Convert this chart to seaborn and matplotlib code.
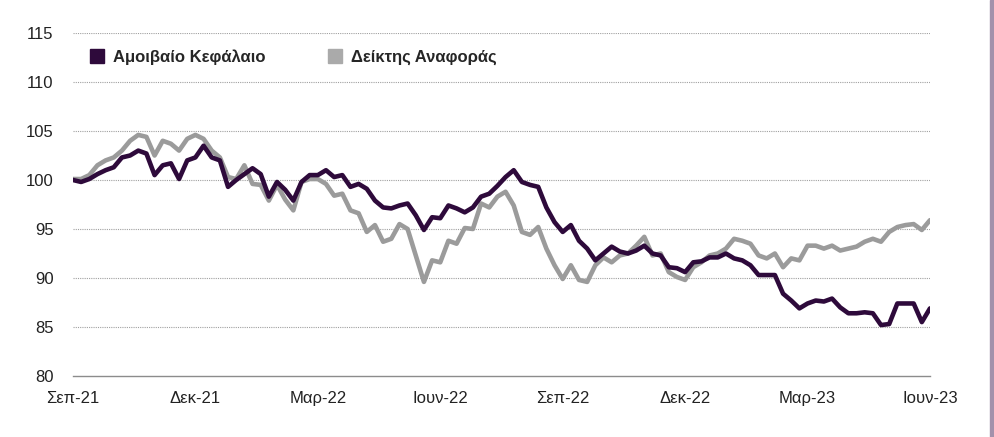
import numpy as np
import pandas as pd
import seaborn as sns
import matplotlib.pyplot as plt
from matplotlib.lines import Line2D
from matplotlib.patches import Rectangle

# x axis in months since Sep-21, one point every 0.2 month
months = np.round(np.arange(0, 21.01, 0.2), 1)

fund = [100.0, 99.8, 100.1, 100.6, 101.0, 101.3, 102.3, 102.5, 103.0, 102.7,
        100.5, 101.5, 101.7, 100.1, 102.0, 102.3, 103.5, 102.3, 102.0, 99.3,
        100.0, 100.6, 101.2, 100.6, 98.3, 99.8, 99.0, 97.9, 99.8, 100.5,
        100.5, 101.0, 100.3, 100.5, 99.3, 99.6, 99.1, 97.9, 97.2, 97.1,
        97.4, 97.6, 96.4, 94.9, 96.2, 96.1, 97.4, 97.1, 96.7, 97.2,
        98.3, 98.6, 99.4, 100.3, 101.0, 99.8, 99.5, 99.3, 97.2, 95.7,
        94.7, 95.4, 93.8, 93.0, 91.8, 92.5, 93.2, 92.7, 92.5, 92.8,
        93.3, 92.5, 92.3, 91.1, 91.0, 90.6, 91.6, 91.7, 92.1, 92.1,
        92.5, 92.0, 91.8, 91.3, 90.3, 90.3, 90.3, 88.4, 87.7, 86.9,
        87.4, 87.7, 87.6, 87.9, 87.0, 86.4, 86.4, 86.5, 86.4, 85.2,
        85.3, 87.4, 87.4, 87.4, 85.5, 86.9]

bench = [100.1, 100.1, 100.5, 101.5, 102.0, 102.3, 103.0, 104.0, 104.6, 104.4,
         102.5, 104.0, 103.7, 103.0, 104.2, 104.6, 104.2, 103.0, 102.3, 100.3,
         100.1, 101.5, 99.6, 99.5, 97.9, 99.5, 98.0, 96.9, 99.8, 100.1,
         100.1, 99.6, 98.4, 98.6, 96.9, 96.6, 94.7, 95.4, 93.7, 94.0,
         95.5, 95.0, 92.3, 89.6, 91.8, 91.6, 93.8, 93.5, 95.1, 95.0,
         97.6, 97.2, 98.3, 98.8, 97.4, 94.7, 94.4, 95.2, 93.0, 91.3,
         89.9, 91.3, 89.8, 89.6, 91.3, 92.1, 91.6, 92.3, 92.5, 93.3,
         94.2, 92.3, 92.5, 90.6, 90.1, 89.8, 91.1, 91.6, 92.3, 92.5,
         93.0, 94.0, 93.8, 93.5, 92.3, 92.0, 92.5, 91.1, 92.0, 91.8,
         93.3, 93.3, 93.0, 93.3, 92.8, 93.0, 93.2, 93.7, 94.0, 93.7,
         94.7, 95.2, 95.4, 95.5, 94.9, 95.9]

series_names = ['Αμοιβαίο Κεφάλαιο', 'Δείκτης Αναφοράς']
tick_pos = [0, 3, 6, 9, 12, 15, 18, 21]
tick_labels = ['Σεπ-21', 'Δεκ-21', 'Μαρ-22', 'Ιουν-22',
               'Σεπ-22', 'Δεκ-22', 'Μαρ-23', 'Ιουν-23']
y_ticks = [80, 85, 90, 95, 100, 105, 110, 115]

dark = '#2e0a3b'
grey_line = '#9b9b9b'
grey_box = '#aaaaaa'

df = pd.DataFrame({
    'month': np.concatenate([months, months]),
    'value': bench + fund,
    'series': [series_names[1]] * len(bench) + [series_names[0]] * len(fund),
})

sns.set_style('white')
plt.rcParams['font.family'] = ['Liberation Sans', 'DejaVu Sans']

fig = plt.figure(figsize=(9.94, 4.37), dpi=100)
ax = fig.add_axes([0.0734, 0.1396, 0.8622, 0.7849])

sns.lineplot(data=df, x='month', y='value', hue='series',
             hue_order=[series_names[1], series_names[0]],
             palette={series_names[0]: dark, series_names[1]: grey_line},
             linewidth=3.3, legend=False, ax=ax)

ax.set_xlim(0, 21)
ax.set_ylim(80, 115)
ax.set_xticks(tick_pos)
ax.set_xticklabels(tick_labels)
ax.set_yticks(y_ticks)
ax.set_xlabel('')
ax.set_ylabel('')

for v in y_ticks[1:]:
    ax.axhline(v, color='#a0a0a0', lw=0.8, ls=(0, (1, 1)), zorder=0)

for s in ['top', 'right', 'left']:
    ax.spines[s].set_visible(False)
ax.spines['bottom'].set_color('#8c8c8c')
ax.spines['bottom'].set_linewidth(1)

ax.tick_params(axis='x', direction='out', length=7, width=1, color='#8c8c8c',
               labelsize=12, pad=4, labelcolor='#222222')
ax.tick_params(axis='y', length=0, labelsize=12, pad=14, labelcolor='#222222')

handles = [Line2D([], [], marker='s', ls='', color=dark, markersize=10),
           Line2D([], [], marker='s', ls='', color=grey_box, markersize=10)]
fig.legend(handles, series_names, loc='center left',
           bbox_to_anchor=(0.0805, 0.869), ncol=2, frameon=False,
           handlelength=1.0, handletextpad=0.45, columnspacing=3.7, borderpad=0,
           prop={'weight': 'bold', 'size': 12})

# thin purple strip on the right edge of the original image
fig.patches.append(Rectangle((0.9955, 0), 0.0045, 1, transform=fig.transFigure,
                             color='#a391ab', zorder=5))

fig.savefig('out.png', dpi=100)
